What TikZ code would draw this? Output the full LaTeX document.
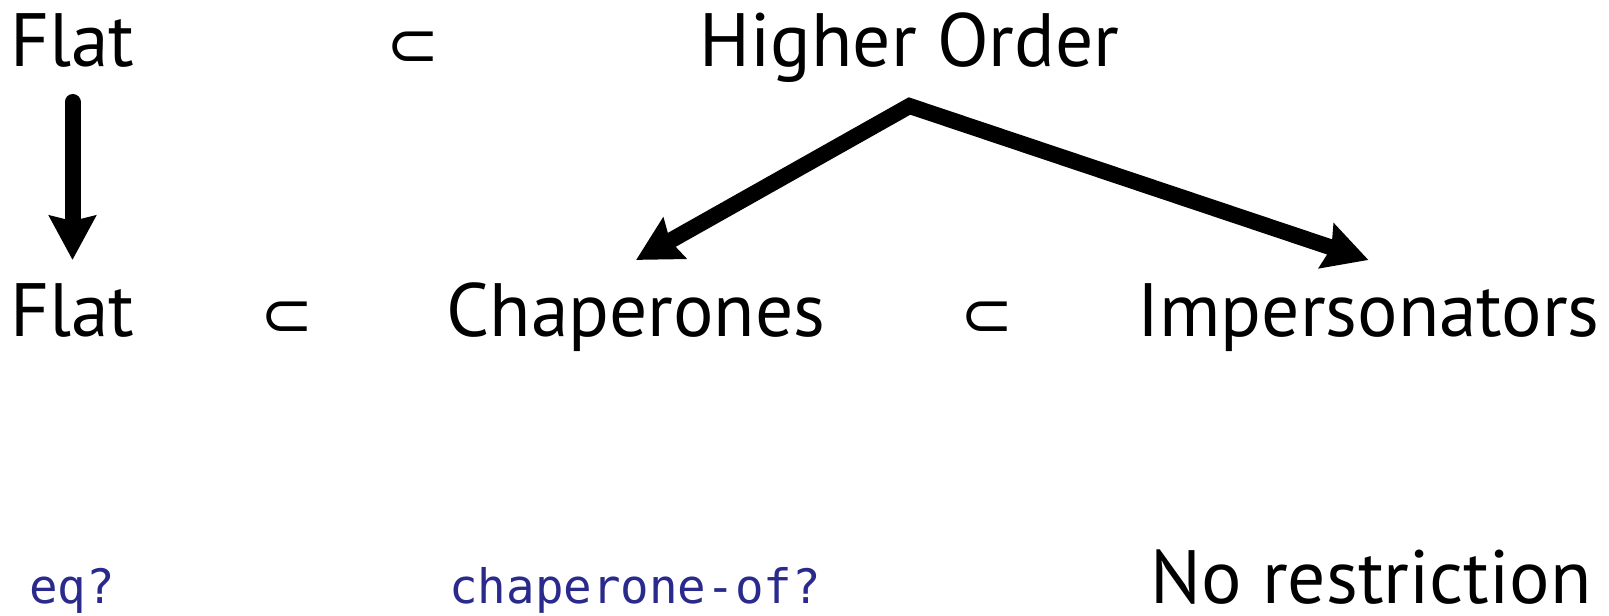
\documentclass[tikz,border=0pt]{standalone}
\usepackage{fontspec}
\setmainfont{PT Sans}
\newfontfamily\codefont{DejaVu Sans Mono}
\newfontfamily\symfont{DejaVu Sans}
\usetikzlibrary{arrows.meta,positioning,calc}
\definecolor{codeblue}{RGB}{42,42,140}

\begin{document}
\begin{tikzpicture}[thick, >={Stealth[length=0.44cm, width=0.46cm, inset=0.05cm]}]
  % Styles
  \tikzstyle{word} = [inner sep=0pt, anchor=base, font=\fontsize{21.5}{24}\selectfont]
  \tikzstyle{subs} = [inner sep=0pt, anchor=base, font=\symfont\fontsize{18}{22}\selectfont]
  \tikzstyle{code} = [inner sep=0pt, anchor=base west, text=codeblue, font=\codefont\fontsize{13.5}{16}\selectfont]
  \tikzstyle{bigarrow} = [draw, line width=0.16cm, line join=miter]

  \useasboundingbox (0,0) rectangle (16.09,6.15);

  % Nodes
  \node[word] (flatA) at (0.725,5.48) {Flat};
  \node[subs] (subA) at (4.13,5.48) {⊂};
  \node[word] (higher) at (9.095,5.48) {Higher Order};

  \node[word] (flatB) at (0.725,2.78) {Flat};
  \node[subs] (subB) at (2.865,2.78) {⊂};
  \node[word] (chap) at (6.36,2.78) {Chaperones};
  \node[subs] (subC) at (9.865,2.78) {⊂};
  \node[word] (imp) at (13.685,2.78) {Impersonators};

  \node[code] (eq) at (0.28,0.12) {eq?};
  \node[code] (chapof) at (4.48,0.12) {chaperone-of?};
  \node[word] (norestr) at (13.71,0.12) {No restriction};

  % Edges
  \path[bigarrow, ->, line cap=round] ([yshift=-0.35cm]flatA.base) -- ([yshift=0.77cm]flatB.base);
  \path[bigarrow, <->] ([yshift=0.77cm]chap.base)
    -- ([yshift=-0.39cm]higher.base) -- ([yshift=0.77cm]imp.base);

\end{tikzpicture}
\end{document}
